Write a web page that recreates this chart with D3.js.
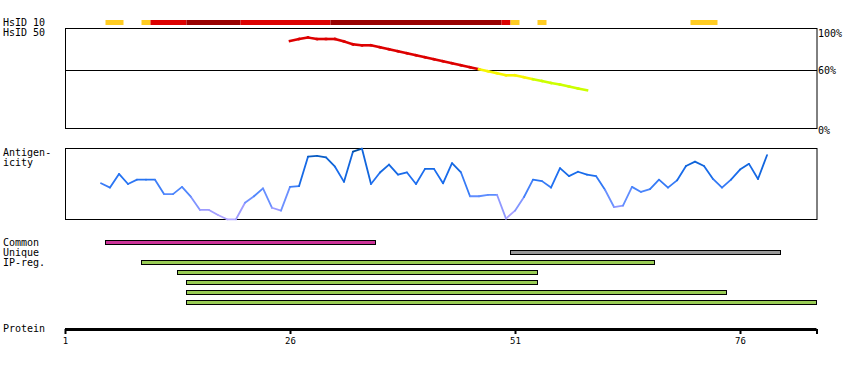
<!DOCTYPE html>
<html>
<head>
<meta charset="utf-8">
<script src="https://cdn.jsdelivr.net/npm/d3@7"></script>
<style>
body { margin: 0; background: #fff; }
text { font-family: "DejaVu Sans Mono", monospace; font-size: 10px; fill: #000; }
</style>
</head>
<body>
<svg width="850" height="370"></svg>
<script>
// protein length and axis ticks
var proteinLength = 84;
var axisTicks = [1, 26, 51, 76];

// HsID 10 identity blocks (residue ranges)
var hsid10Start = [6, 10, 11, 15, 21, 31, 50, 51, 54, 71];
var hsid10End   = [7, 10, 14, 20, 30, 49, 50, 51, 54, 73];
var hsid10Level = ["low", "low", "mid", "high", "mid", "high", "mid", "low", "low", "low"];

// HsID 50 line, % identity, starting at residue 26
var hsid50Start = 26;
var hsid50Values = [89, 91, 92.5, 91, 91, 91, 88.5, 85.7, 84.7, 84.7,
                    82.8, 80.8, 78.8, 76.8, 74.8, 72.8, 70.8, 68.8, 66.8, 64.8,
                    62.8, 60.8, 58.8, 56.8, 54.7, 54.7, 52.7, 50.7, 49, 47,
                    45.5, 43.5, 41.5, 39.7];
var pctTicks = [100, 60, 0];

// antigenicity score, starting at residue 5
var antigenStart = 5;
var antigenValues = [51, 45, 64, 50, 56, 56, 56, 36, 36, 46,
                     32, 14, 14, 7, 1, 1, 24, 33, 44, 17,
                     13, 46, 47, 88, 89, 87, 74, 53, 95, 99,
                     50, 66, 77, 63, 66, 50, 71, 71, 51, 79,
                     66, 33, 33, 35, 35, 2, 13, 32, 56, 54,
                     45, 72, 61, 67, 63, 61, 42, 18, 20, 46,
                     39, 43, 56, 45, 55, 75, 81, 75, 57, 45,
                     56, 70, 78, 57, 90];

// feature bars
var barNames = ["Common", "Unique", "IP-reg.", "IP-reg.", "IP-reg.", "IP-reg.", "IP-reg."];
var barStart = [6, 51, 10, 14, 15, 15, 15];
var barEnd   = [35, 80, 66, 53, 53, 74, 84];
var barColor = ["#cc3399", "#999999", "#99cc55", "#99cc55", "#99cc55", "#99cc55", "#99cc55"];

var svg = d3.select("svg");

var x = d3.scaleLinear()
    .domain([1, proteinLength + 0.5])
    .range([65, 816.5]);

var yPct = d3.scaleLinear().domain([0, 100]).range([130, 30]);
var yAnt = d3.scaleLinear().domain([0, 100]).range([220, 148]);

var levelColor = { low: "#ffcc22", mid: "#dd0000", high: "#990000" };
var antColor = d3.scaleLinear()
    .domain([0, 15, 35, 60, 85, 100])
    .range(["#b4a8ff", "#9a9aff", "#5a8cff", "#1c6ef0", "#0a60d0", "#004c99"]);

function pctColor(v) {
  if (v >= 60) return "#dd0000";
  if (v >= 50) return "#f6f600";
  return "#ccff00";
}

// left labels
var labels = [["HsID 10", 26], ["HsID 50", 36], ["Antigen-", 156], ["icity", 166],
              ["Common", 246], ["Unique", 256], ["IP-reg.", 266], ["Protein", 332]];
svg.selectAll(".lbl")
    .data(labels)
  .enter().append("text")
    .attr("class", "lbl")
    .attr("x", 3)
    .attr("y", function(d) { return d[1]; })
    .text(function(d) { return d[0]; });

// HsID 10 strip
svg.selectAll(".h10")
    .data(hsid10Start)
  .enter().append("rect")
    .attr("class", "h10")
    .attr("x", function(d) { return x(d - 0.5); })
    .attr("width", function(d, i) { return x(hsid10End[i] + 0.5) - x(d - 0.5); })
    .attr("y", 20)
    .attr("height", 5)
    .attr("fill", function(d, i) { return levelColor[hsid10Level[i]]; });

// HsID 50 panel
svg.append("rect")
    .attr("x", x(1) + 0.5).attr("y", 28.5)
    .attr("width", x(proteinLength + 0.5) - x(1)).attr("height", 100)
    .attr("fill", "none").attr("stroke", "#000");

svg.append("line")
    .attr("x1", x(1)).attr("x2", x(proteinLength + 0.5) + 0.5)
    .attr("y1", yPct(60) + 0.5).attr("y2", yPct(60) + 0.5)
    .attr("stroke", "#000");

svg.selectAll(".pct")
    .data(pctTicks)
  .enter().append("text")
    .attr("class", "pct")
    .attr("x", 818)
    .attr("y", function(d) { return Math.max(yPct(d) + 3.5, 36.5); })
    .text(function(d) { return d + "%"; });

var h50 = hsid50Values.map(function(v, i) { return { p: hsid50Start + i, v: v }; });
svg.selectAll(".h50")
    .data(h50.slice(1))
  .enter().append("line")
    .attr("class", "h50")
    .attr("x1", function(d, i) { return x(h50[i].p); })
    .attr("y1", function(d, i) { return yPct(h50[i].v); })
    .attr("x2", function(d) { return x(d.p); })
    .attr("y2", function(d) { return yPct(d.v); })
    .attr("stroke", function(d, i) { return pctColor(Math.min(d.v, h50[i].v)); })
    .attr("stroke-width", 2.6)
    .attr("stroke-linecap", "square");

// antigenicity panel
svg.append("rect")
    .attr("x", x(1) + 0.5).attr("y", 148.5)
    .attr("width", x(proteinLength + 0.5) - x(1)).attr("height", 71)
    .attr("fill", "none").attr("stroke", "#000");

var ant = antigenValues.map(function(v, i) { return { p: antigenStart + i, v: v }; });
svg.selectAll(".ant")
    .data(ant.slice(1))
  .enter().append("line")
    .attr("class", "ant")
    .attr("x1", function(d, i) { return x(ant[i].p); })
    .attr("y1", function(d, i) { return yAnt(ant[i].v); })
    .attr("x2", function(d) { return x(d.p); })
    .attr("y2", function(d) { return yAnt(d.v); })
    .attr("stroke", function(d, i) { return antColor((d.v + ant[i].v) / 2); })
    .attr("stroke-width", 1.8)
    .attr("stroke-linecap", "round");

// feature bars
svg.selectAll(".bar")
    .data(barStart)
  .enter().append("rect")
    .attr("class", "bar")
    .attr("x", function(d) { return x(d - 0.5); })
    .attr("width", function(d, i) { return x(barEnd[i] + 0.5) - x(d - 0.5); })
    .attr("y", function(d, i) { return 240.5 + i * 10; })
    .attr("height", 4)
    .attr("fill", function(d, i) { return barColor[i]; })
    .attr("stroke", "#000")
    .attr("stroke-width", 1);

// protein axis
svg.append("line")
    .attr("x1", x(1)).attr("x2", x(proteinLength + 0.5))
    .attr("y1", 329.5).attr("y2", 329.5)
    .attr("stroke", "#000").attr("stroke-width", 3);

var axis = svg.append("g")
    .attr("transform", "translate(0,329)")
    .call(d3.axisBottom(x)
      .tickValues(axisTicks.concat([proteinLength + 0.5]))
      .tickSize(5)
      .tickSizeOuter(0)
      .tickFormat(function(d) { return axisTicks.indexOf(d) >= 0 ? d : ""; }));
axis.select(".domain").remove();
axis.selectAll(".tick line").attr("stroke-width", 2);
axis.selectAll(".tick text")
    .attr("y", 9)
    .style("font-family", "DejaVu Sans Mono, monospace")
    .style("font-size", "9px");
</script>
</body>
</html>
